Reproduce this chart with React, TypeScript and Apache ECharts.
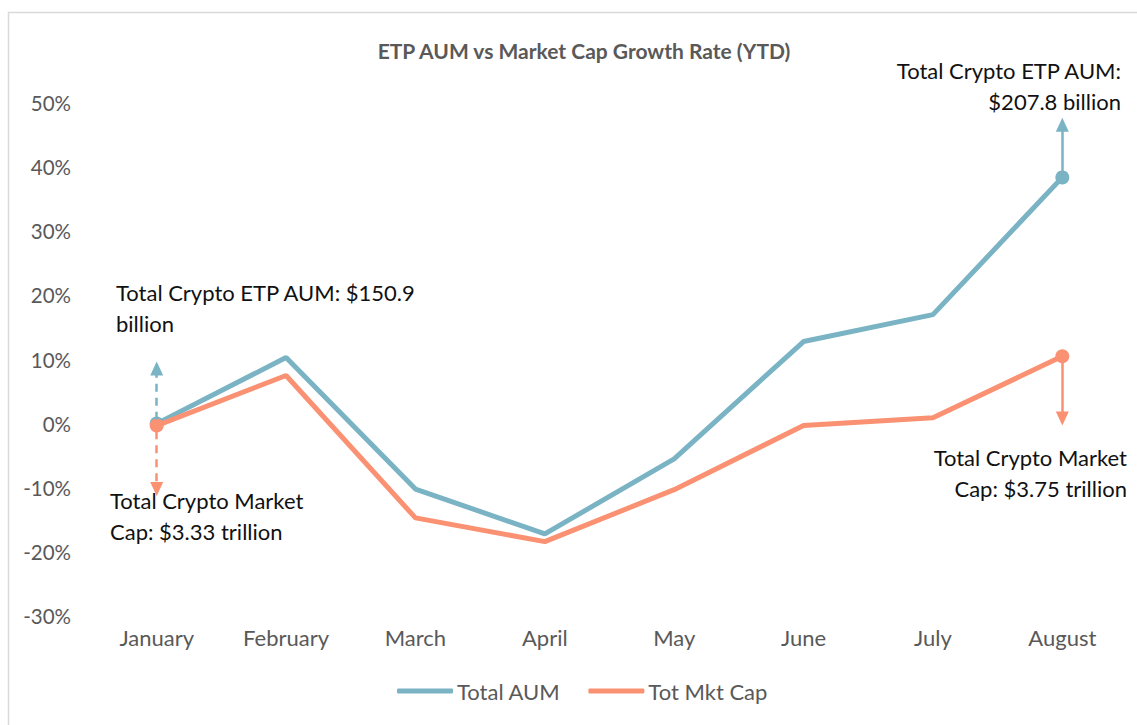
import React, { useEffect, useRef } from "react";
import * as echarts from "echarts";

const months = ["January", "February", "March", "April", "May", "June", "July", "August"];
const totalAum = [0, 10.3, -10.2, -17.2, -5.5, 12.8, 17.0, 38.4];
const totMktCap = [-0.3, 7.5, -14.7, -18.4, -10.3, -0.3, 0.9, 10.5];
const yTicks = { min: -30, max: 50, interval: 10 };
const arrowTips = { janUp: 8.6, janDown: -10.2, augUp: 46.6, augDown: 0.8 };

const TEAL = "#79B3C4";
const ORANGE = "#FA9172";
const FONT = "Lato, 'Open Sans', sans-serif";

export default function App() {
  const ref = useRef<HTMLDivElement>(null);
  useEffect(() => {
    if (!ref.current) return;
    const chart = echarts.init(ref.current, null, { renderer: "svg" });
    const endSymbol = (_v: any, p: any) => (p.dataIndex === 0 || p.dataIndex === months.length - 1 ? 14 : 0);
    const last = months.length - 1;
    const note = (text: string, x: number, y: number, align: string) => ({
      type: "text",
      x,
      y,
      silent: true,
      style: { text, font: `22px ${FONT}`, fill: "#111", align, verticalAlign: "middle" },
    });
    chart.setOption({
      animation: false,
      backgroundColor: "#fff",
      textStyle: { fontFamily: FONT },
      title: {
        text: "ETP AUM vs Market Cap Growth Rate (YTD)",
        left: 579,
        textAlign: "center",
        top: 35,
        textStyle: { fontSize: 21, fontWeight: "bold", color: "#595959", fontFamily: FONT },
      },
      grid: { left: 92, right: 10, top: 103, bottom: 109 },
      xAxis: {
        type: "category",
        data: months,
        boundaryGap: true,
        axisLine: { show: false },
        axisTick: { show: false },
        axisLabel: { color: "#595959", fontSize: 22, margin: 10 },
      },
      yAxis: {
        type: "value",
        min: yTicks.min,
        max: yTicks.max,
        interval: yTicks.interval,
        splitLine: { show: false },
        axisLine: { show: false },
        axisTick: { show: false },
        axisLabel: { formatter: "{value}%", color: "#595959", fontSize: 20.5, margin: 21 },
      },
      legend: {
        top: 675,
        left: 392,
        itemWidth: 56,
        itemHeight: 5,
        itemGap: 28,
        icon: "roundRect",
        textStyle: { color: "#595959", fontSize: 22, fontFamily: FONT, padding: [0, 0, 0, -1] },
        data: ["Total AUM", "Tot Mkt Cap"],
      },
      series: [
        {
          name: "Total AUM",
          type: "line",
          data: totalAum,
          color: TEAL,
          lineStyle: { width: 5, color: TEAL },
          symbol: "circle",
          symbolSize: endSymbol,
          itemStyle: { color: TEAL },
          z: 2,
          markLine: {
            silent: true,
            symbol: ["none", "triangle"],
            symbolSize: [13, 14],
            label: { show: false },
            data: [
              [
                { coord: [0, 0.6], lineStyle: { type: [8, 6], color: TEAL, width: 2.5 } },
                { coord: [0, arrowTips.janUp] },
              ],
              [
                { coord: [last, totalAum[last]], lineStyle: { type: "solid", color: TEAL, width: 2.5 } },
                { coord: [last, arrowTips.augUp] },
              ],
            ],
          },
        },
        {
          name: "Tot Mkt Cap",
          type: "line",
          data: totMktCap,
          color: ORANGE,
          lineStyle: { width: 5, color: ORANGE },
          symbol: "circle",
          symbolSize: endSymbol,
          itemStyle: { color: ORANGE },
          z: 3,
          markLine: {
            silent: true,
            symbol: ["none", "triangle"],
            symbolSize: [13, 14],
            label: { show: false },
            data: [
              [
                { coord: [0, -1.2], lineStyle: { type: [8, 6], color: ORANGE, width: 2.5 } },
                { coord: [0, arrowTips.janDown] },
              ],
              [
                { coord: [last, totMktCap[last]], lineStyle: { type: "solid", color: ORANGE, width: 2.5 } },
                { coord: [last, arrowTips.augDown] },
              ],
              [
                { yAxis: 0, symbol: "none", lineStyle: { type: "solid", color: "#D9D9D9", width: 1.5 }, z: 0 },
                { yAxis: 0, symbol: "none" },
              ],
            ],
          },
        },
      ],
      graphic: [
        {
          type: "rect",
          shape: { x: 8.5, y: 12.5, width: 1200, height: 800 },
          style: { fill: "none", stroke: "#D9D9D9", lineWidth: 1.5 },
          silent: true,
          z: -1,
        },
        note("Total Crypto ETP AUM: $150.9", 116, 292, "left"),
        note("billion", 116, 323, "left"),
        note("Total Crypto Market", 110, 500, "left"),
        note("Cap: $3.33 trillion", 110, 531, "left"),
        note("Total Crypto ETP AUM:", 1121, 70, "right"),
        note("$207.8 billion", 1121, 101, "right"),
        note("Total Crypto Market", 1127, 457, "right"),
        note("Cap: $3.75 trillion", 1127, 488, "right"),
      ],
    });
    return () => chart.dispose();
  }, []);
  return (
    <div
      ref={ref}
      style={{ position: "fixed", left: 0, top: 0, width: 1137, height: 725 }}
    />
  );
}
